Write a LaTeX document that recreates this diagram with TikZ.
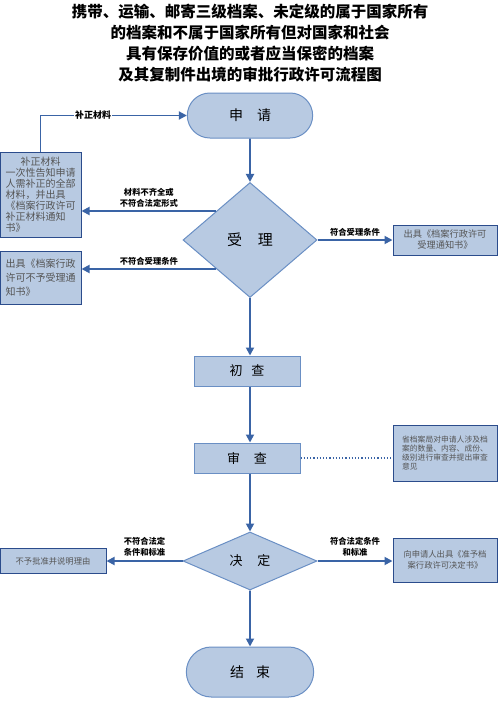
\documentclass[tikz,border=0pt]{standalone}
\usepackage{fontspec}
\setmainfont{Noto Sans CJK SC}
\usepackage{tikz}
\usetikzlibrary{positioning, arrows.meta, shapes.geometric, shapes.misc}
\definecolor{flowfill}{HTML}{B8CAE2}
\definecolor{flowedge}{HTML}{6A8FC4}
\definecolor{boxedge}{HTML}{2B4C8C}
\definecolor{flowline}{HTML}{3A64A6}
\definecolor{boxtext}{HTML}{555555}

\begin{document}
\begin{tikzpicture}[x=1pt, y=-1pt,
  every node/.style={font=\fontsize{9}{11}\selectfont},
  terminal/.style={rounded rectangle, draw=flowedge, fill=flowfill, line width=1pt, minimum width=132pt, minimum height=45pt, font=\fontsize{14}{16}\selectfont},
  decision/.style={diamond, draw=flowedge, fill=flowfill, line width=1pt, inner sep=0pt, minimum width=134pt, font=\fontsize{14}{16}\selectfont},
  process/.style={rectangle, draw=flowedge, fill=flowfill, line width=1pt, minimum width=106pt, minimum height=30pt, font=\fontsize{13}{15}\selectfont},
  sidebox/.style={rectangle, draw=boxedge, fill=flowfill, line width=1pt, text=boxtext, inner sep=2pt, align=center},
  flow/.style={draw=flowline, line width=1.8pt, -{Triangle[width=8pt,length=8pt]}},
  tag/.style={font=\bfseries\fontsize{8.3}{11}\selectfont, align=center, inner sep=1pt}]
\useasboundingbox (0,0) rectangle (500,707);

% Define the nodes
\node[align=center, font=\bfseries\fontsize{15.5}{21}\selectfont] (title) at (250,43)
  {携带、运输、邮寄三级档案、未定级的属于国家所有\\的档案和不属于国家所有但对国家和社会\\具有保存价值的或者应当保密的档案\\及其复制件出境的审批行政许可流程图};
\node[terminal] (apply) at (250,115.5) {申\quad 请};
\node[decision, minimum height=115pt, font=\fontsize{15}{17}\selectfont] (accept) at (250,240) {受\hspace{16pt}理};
\node[process] (precheck) at (247,371) {初\hspace{9pt}查};
\node[process] (review) at (247,458) {审\hspace{14pt}查};
\node[decision, minimum height=58pt, font=\fontsize{13}{15}\selectfont] (decide) at (250,561) {决\hspace{15pt}定};
\node[terminal, minimum width=134pt, minimum height=50pt] (finish) at (250,672) {结\hspace{12pt}束};

% side boxes
\node[sidebox, minimum width=81pt, minimum height=85pt, align=left, font=\fontsize{10}{11}\selectfont] (fixbox) at (40.5,194.5)
  {\makebox[70pt]{补正材料}\\一次性告知申请\\人需补正的全部\\材料，并出具\\《档案行政许可\\补正材料通知\\书》};
\node[sidebox, minimum width=81pt, minimum height=53pt, align=left, font=\fontsize{10}{14}\selectfont] (rejectbox) at (40.5,277.5)
  {出具《档案行政\\许可不予受理通\\知书》};
\node[sidebox, minimum width=104pt, minimum height=30pt, font=\fontsize{9.2}{11}\selectfont] (acceptbox) at (445,240)
  {出具《档案行政许可\\受理通知书》};
\node[sidebox, minimum width=104pt, minimum height=56pt, align=left, font=\fontsize{7.8}{9}\selectfont] (notebox) at (445,453)
  {省档案局对申请人涉及档\\案的数量、内容、成份、\\级别进行审查并提出审查\\意见};
\node[sidebox, minimum width=106pt, minimum height=25pt, font=\fontsize{8.3}{10}\selectfont] (denybox) at (53,561)
  {不予批准并说明理由};
\node[sidebox, minimum width=104pt, minimum height=44pt, font=\fontsize{8.3}{11}\selectfont] (grantbox) at (445,560)
  {向申请人出具《准予档\\案行政许可决定书》};

% Draw the maps
\draw[flow] (apply) -- (accept);
\draw[flow] (accept) -- (precheck.north -| accept.south);
\draw[flow] (precheck.south -| accept.south) -- (review.north -| accept.south);
\draw[flow] (review.south -| accept.south) -- (decide);
\draw[flow] (decide) -- (finish);

% not accepted
\draw[flow] (accept.north west) -- (accept.north west -| fixbox.east)
  node[tag, midway, above=2pt] {材料不齐全或\\不符合法定形式};
\draw[flow] (fixbox.north) |- (apply.west)
  node[tag, pos=0.68, fill=white, font=\bfseries\fontsize{9}{11}\selectfont] {补正材料};
\draw[flow] (accept.south west) -- (accept.south west -| rejectbox.east)
  node[tag, midway, above=2pt] {不符合受理条件};
\draw[flow] (accept.east) -- (acceptbox.west)
  node[tag, midway, above=2pt] {符合受理条件};

% review note
\draw[flowline, dotted, line width=1.2pt] (review.east) -- (review.east -| notebox.west);

% decision
\draw[flow] (decide.west) -- (denybox.east)
  node[tag, midway, above=3pt] {不符合法定\\条件和标准};
\draw[flow] (decide.east) -- (decide.east -| grantbox.west)
  node[tag, midway, above=3pt] {符合法定条件\\和标准};
\end{tikzpicture}
\end{document}
